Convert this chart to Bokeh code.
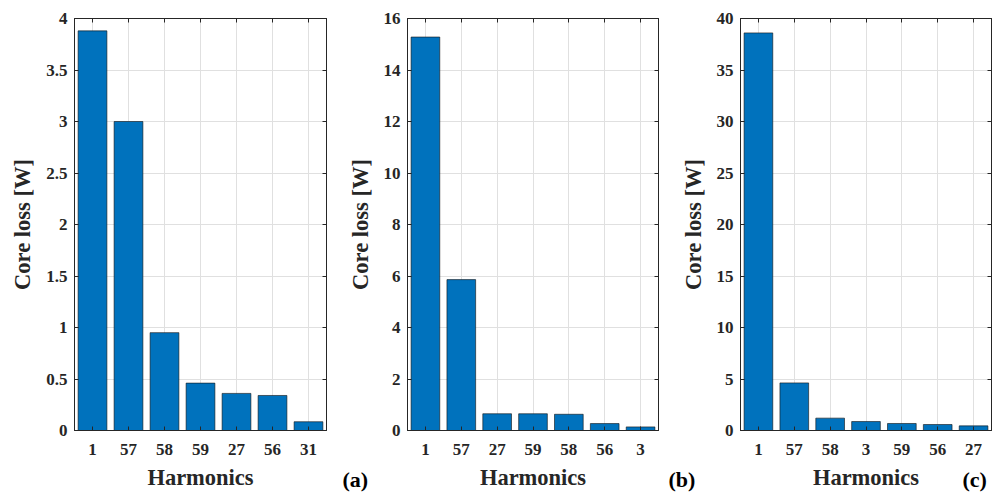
from bokeh.plotting import figure
from bokeh.layouts import row
from bokeh.models import (Range1d, FactorRange, LinearAxis, CategoricalAxis,
                          SingleIntervalTicker, NumeralTickFormatter, Title)
from bokeh.embed import file_html
from bokeh.resources import INLINE

# ---- data ----
harm_a = ["1", "57", "58", "59", "27", "56", "31"]
loss_a = [3.88, 3.00, 0.95, 0.46, 0.36, 0.34, 0.085]

harm_b = ["1", "57", "27", "59", "58", "56", "3"]
loss_b = [15.28, 5.86, 0.65, 0.65, 0.63, 0.27, 0.14]

harm_c = ["1", "57", "58", "3", "59", "56", "27"]
loss_c = [38.6, 4.62, 1.2, 0.87, 0.68, 0.58, 0.45]

ymax = [4, 16, 40]
ystep = [0.5, 2, 5]
panel_tags = ["(a)", "(b)", "(c)"]

FONT = "Liberation Serif"
AX = "#262626"
GRID = "#e0e0e0"
BAR = "#0072BD"


def make_panel(cats, vals, top, step, border_left, frame_w, border_right):
    p = figure(x_range=FactorRange(factors=cats, range_padding=0),
               y_range=Range1d(0, top),
               frame_width=frame_w, frame_height=412,
               min_border_left=border_left, min_border_right=border_right,
               min_border_top=18, min_border_bottom=65,
               output_backend="svg", toolbar_location=None,
               background_fill_color="white", border_fill_color="white")
    p.outline_line_color = AX
    p.vbar(x=cats, top=vals, width=0.8, fill_color=BAR,
           line_color="#111111", line_width=0.6)

    ticker = SingleIntervalTicker(interval=step, num_minor_ticks=0)
    p.yaxis.ticker = ticker
    p.yaxis.formatter = NumeralTickFormatter(format="0.[0]")
    p.ygrid.ticker = ticker

    for ax in (p.xaxis[0], p.yaxis[0]):
        ax.axis_line_color = AX
        ax.major_tick_line_color = AX
        ax.major_tick_in = 4
        ax.major_tick_out = 0
        ax.minor_tick_line_color = None
        ax.major_label_text_font = FONT
        ax.major_label_text_font_style = "bold"
        ax.major_label_text_font_size = "17px"
        ax.major_label_text_color = AX
        ax.axis_label_text_font = FONT
        ax.axis_label_text_font_style = "bold"
        ax.axis_label_text_font_size = "22.5px"
        ax.axis_label_text_color = AX
    p.xaxis.axis_label = "Harmonics"
    p.yaxis.axis_label = "Core loss [W]"
    p.xaxis.major_label_standoff = 13
    p.xaxis.axis_label_standoff = 7
    p.yaxis.major_label_standoff = 7
    p.yaxis.axis_label_standoff = 8

    p.xgrid.grid_line_color = GRID
    p.ygrid.grid_line_color = GRID

    top_ax = CategoricalAxis()
    right_ax = LinearAxis(ticker=ticker)
    for ax in (top_ax, right_ax):
        ax.axis_line_color = AX
        ax.major_tick_line_color = AX
        ax.major_tick_in = 4
        ax.major_tick_out = 0
        ax.minor_tick_line_color = None
        ax.major_label_text_color = None
        ax.major_label_text_font_size = "1px"
        ax.major_label_standoff = 0
    p.add_layout(top_ax, "above")
    p.add_layout(right_ax, "right")
    return p


p1 = make_panel(harm_a, loss_a, ymax[0], ystep[0], 74, 252, 9)
p2 = make_panel(harm_b, loss_b, ymax[1], ystep[1], 72, 251, 9)
p3 = make_panel(harm_c, loss_c, ymax[2], ystep[2], 73, 251, 3)


def tag(p, text, offset):
    p.add_layout(Title(text=text, align="left", offset=offset, standoff=-52,
                       vertical_align="top", text_font=FONT,
                       text_font_style="bold", text_font_size="22px",
                       text_color="black"), "below")


tag(p2, panel_tags[0], -65)
tag(p3, panel_tags[1], -72)
tag(p3, panel_tags[2], 222)

layout = row(p1, p2, p3, spacing=0)
open("out.html", "w").write(file_html(layout, INLINE))
